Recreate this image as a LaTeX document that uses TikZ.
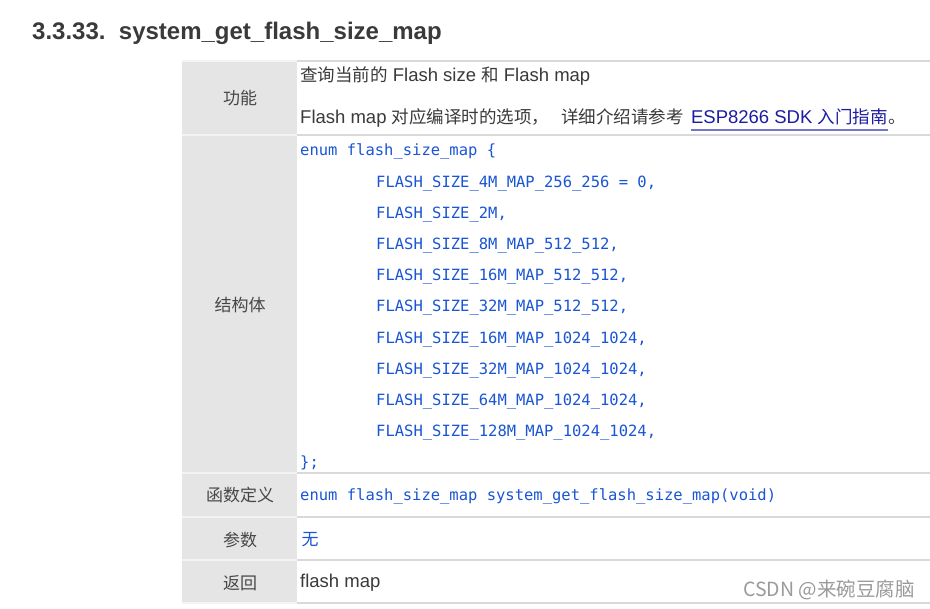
\documentclass[tikz,border=0pt]{standalone}
\usepackage{fontspec}
\setmainfont{Liberation Sans}
\newfontfamily\cjk{Noto Sans CJK SC}
\newfontfamily\codefont{DejaVu Sans Mono}
\definecolor{txt}{HTML}{3A3A3A}
\definecolor{lbl}{HTML}{474747}
\definecolor{cellgray}{HTML}{E5E5E5}
\definecolor{rulegray}{HTML}{D9D9D9}
\definecolor{rulelight}{HTML}{F3F3F3}
\definecolor{codeblue}{HTML}{1A55D4}
\definecolor{linkblue}{HTML}{1C1CA0}
\definecolor{linkline}{HTML}{7474D0}
\definecolor{wm}{HTML}{9A9A9A}
\newcommand\zh[1]{{\cjk\fontsize{17.5}{17.5}\selectfont #1}}
\tikzset{
  lblcell/.style={inner sep=0pt, text=lbl, font=\cjk\fontsize{17}{17}\selectfont},
  bodytxt/.style={inner sep=0pt, anchor=base west, text=txt, font=\fontsize{18.5}{18.5}\selectfont},
  codeline/.style={inner sep=0pt, anchor=base west, text=codeblue, font=\codefont\fontsize{15.5}{15.5}\selectfont},
  rowrule/.style={draw=rulegray, line width=1.2pt},
  rowrulegray/.style={draw=rulelight, line width=1.2pt}
}
\begin{document}
\begin{tikzpicture}[x=1pt,y=-1pt]
\useasboundingbox (0,0) rectangle (930,609);
\fill[white] (0,0) rectangle (930,609);
% title
\node[inner sep=0pt, anchor=base west, text=txt, font=\bfseries\fontsize{24}{24}\selectfont] (title) at (32,40) {3.3.33.\ \ system\_get\_flash\_size\_map};
% label column
\fill[cellgray] (182,61) rectangle (297,603);
% rules
\foreach \yy in {61,135,473,517,560,603}{
  \path[rowrule] (297,\yy) -- (930,\yy);
  \path[rowrulegray] (182,\yy) -- (297,\yy);
}
% labels
\node[lblcell] (l1) at (240,98) {功能};
\node[lblcell] (l2) at (240,305) {结构体};
\node[lblcell] (l3) at (240,495) {函数定义};
\node[lblcell] (l4) at (240,540) {参数};
\node[lblcell] (l5) at (240,583) {返回};
% row 1
\node[bodytxt] (r1a) at (300,82) {\zh{查询当前的} Flash size \zh{和} Flash map};
\node[bodytxt] (r1b) at (300,124) {Flash map \zh{对应编译时的选项，\hspace{12pt}详细介绍请参考}};
\node[bodytxt, text=linkblue, anchor=base west] (link) at ([xshift=7pt]r1b.base east) {ESP8266 SDK \zh{入门指南}};
\node[bodytxt, anchor=base west] (stop) at (link.base east) {\zh{。}};
\draw[linkline, line width=1.2pt] ([yshift=-6pt]link.base west) -- ([yshift=-6pt]link.base east);
% row 2 code
\node[codeline] (c0) at (300,156) {enum flash\_size\_map \{};
\node[codeline] (c1) at (376,187.2) {FLASH\_SIZE\_4M\_MAP\_256\_256 = 0,};
\node[codeline] (c2) at (376,218.4) {FLASH\_SIZE\_2M,};
\node[codeline] (c3) at (376,249.6) {FLASH\_SIZE\_8M\_MAP\_512\_512,};
\node[codeline] (c4) at (376,280.8) {FLASH\_SIZE\_16M\_MAP\_512\_512,};
\node[codeline] (c5) at (376,312) {FLASH\_SIZE\_32M\_MAP\_512\_512,};
\node[codeline] (c6) at (376,343.2) {FLASH\_SIZE\_16M\_MAP\_1024\_1024,};
\node[codeline] (c7) at (376,374.4) {FLASH\_SIZE\_32M\_MAP\_1024\_1024,};
\node[codeline] (c8) at (376,405.6) {FLASH\_SIZE\_64M\_MAP\_1024\_1024,};
\node[codeline] (c9) at (376,436.8) {FLASH\_SIZE\_128M\_MAP\_1024\_1024,};
\node[codeline] (c10) at (300,468) {\};};
% row 3
\node[codeline] (d1) at (300,501) {enum flash\_size\_map system\_get\_flash\_size\_map(void)};
% row 4
\node[inner sep=0pt, text=codeblue, font=\cjk\fontsize{17}{17}\selectfont] (p1) at (310,540) {无};
% row 5
\node[bodytxt] (ret) at (300,588) {flash map};
% watermark
\node[inner sep=0pt, anchor=base west, text=wm, font=\cjk\fontsize{19.5}{19.5}\selectfont] (wmark) at (743,597) {CSDN @来碗豆腐脑};
\end{tikzpicture}
\end{document}
